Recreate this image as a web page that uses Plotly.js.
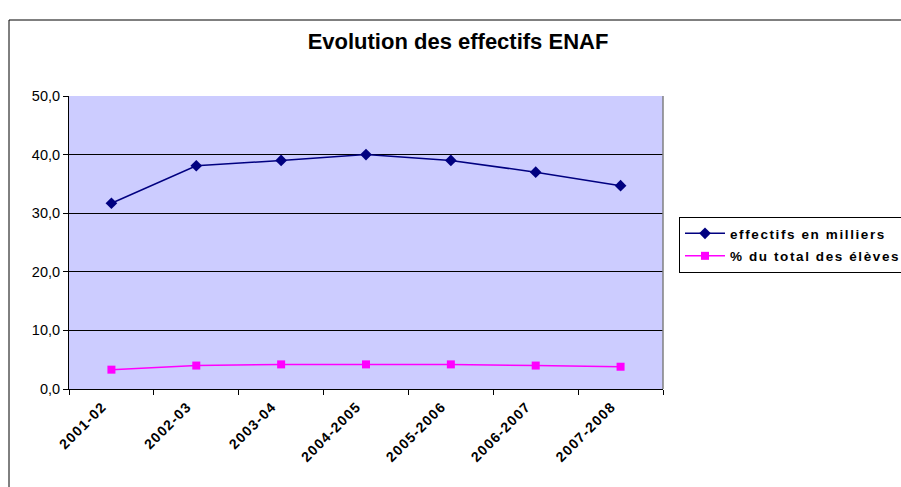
<!DOCTYPE html>
<html>
<head>
<meta charset="utf-8">
<script src="https://cdn.plot.ly/plotly-3.0.1.min.js"></script>
<style>
html,body{margin:0;padding:0;background:#fff}
#chart{width:901px;height:487px}
.legendtext{letter-spacing:1.6px}
.xtick text{letter-spacing:1.2px}
</style>
</head>
<body>
<div id="chart"></div>
<script>
const categories = ["2001-02", "2002-03", "2003-04", "2004-2005", "2005-2006", "2006-2007", "2007-2008"];
const effectifs = [31.7, 38.1, 39.0, 40.0, 39.0, 37.0, 34.7];
const pctTotal = [3.3, 4.0, 4.2, 4.2, 4.2, 4.0, 3.8];
const seriesNames = ["effectifs en milliers", "% du total des élèves"];
const yTicks = [0, 10, 20, 30, 40, 50];

const FONT = "Liberation Sans, Arial, sans-serif";

const traces = [
  {
    x: categories, y: effectifs, name: seriesNames[0], legendgroup: "a", type: "scatter", mode: "lines+markers",
    line: {color: "#000080", width: 1.5},
    marker: {symbol: "diamond", size: 9, color: "#000080"}
  },
  {
    x: categories, y: pctTotal, name: seriesNames[1], legendgroup: "b", type: "scatter", mode: "lines+markers",
    line: {color: "#FF00FF", width: 1.5},
    marker: {symbol: "square", size: 8, color: "#FF00FF"}
  }
];

const L = 69, R = 663, T = 96, B = 389, W = 901, H = 487;
const pw = R - L, ph = B - T;
const px = v => (v - L) / pw;
const py = v => (B - v) / ph;

const layout = {
  width: W, height: H,
  margin: {l: L, r: W - R, t: T, b: H - B, pad: 0, autoexpand: false},
  paper_bgcolor: "#FFFFFF",
  plot_bgcolor: "#CCCCFF",
  separators: ", ",
  font: {family: FONT, color: "#000"},
  title: {
    text: "<b>Evolution des effectifs ENAF</b>",
    font: {family: FONT, size: 22, color: "#000"},
    x: 458 / W, xref: "container", xanchor: "center",
    y: 1 - 41 / H, yref: "container", yanchor: "middle"
  },
  xaxis: {
    type: "category",
    range: [-0.5, categories.length - 0.5],
    tickangle: -45,
    tickson: "boundaries",
    ticks: "outside", ticklen: 5, tickcolor: "#000", tickwidth: 1,
    ticklabelshift: -9, ticklabelstandoff: 3,
    showline: true, linecolor: "#000", linewidth: 1,
    showgrid: false, zeroline: false,
    tickfont: {family: FONT, size: 14, color: "#000", weight: "bold"}
  },
  yaxis: {
    range: [0, 50],
    tickvals: yTicks,
    tickformat: ".1f",
    ticks: "outside", ticklen: 5, tickcolor: "#000", tickwidth: 1,
    showline: true, linecolor: "#000", linewidth: 1,
    showgrid: true, gridcolor: "#000", gridwidth: 1,
    zeroline: false,
    tickfont: {family: FONT, size: 14.5, color: "#000"}
  },
  showlegend: true,
  legend: {
    x: px(679), xanchor: "left",
    y: py(217), yanchor: "top",
    bgcolor: "#FFFFFF",
    bordercolor: "#000", borderwidth: 1,
    font: {family: FONT, size: 13.5, color: "#000", weight: "bold"},
    tracegroupgap: 2,
    itemwidth: 40
  },
  shapes: [
    {type: "rect", xref: "paper", yref: "paper",
     x0: px(9), x1: px(910), y0: py(500), y1: py(20),
     line: {color: "#000", width: 1}, layer: "below"},
    {type: "line", xref: "paper", yref: "paper",
     x0: 1, x1: 1, y0: 0, y1: 1,
     line: {color: "#808080", width: 1.5}}
  ]
};

Plotly.newPlot("chart", traces, layout, {displayModeBar: false, staticPlot: true});
</script>
</body>
</html>
